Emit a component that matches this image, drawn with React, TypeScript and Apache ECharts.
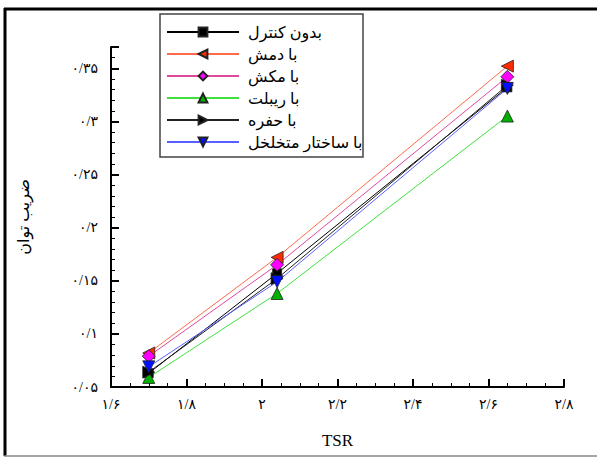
import React, { useEffect, useRef } from "react";
import * as echarts from "echarts";

const tsr = [1.7, 2.04, 2.65];
const seriesNames = ["بدون کنترل", "با دمش", "با مکش", "با ریبلت", "با حفره", "با ساختار متخلخل"];
const noControl = [0.063, 0.157, 0.332];
const blowing = [0.082, 0.172, 0.352];
const suction = [0.079, 0.165, 0.342];
const riblet = [0.059, 0.138, 0.305];
const cavity = [0.064, 0.152, 0.334];
const porous = [0.069, 0.149, 0.331];

const faDigits = "۰۱۲۳۴۵۶۷۸۹";
function toFa(v: number): string {
  const s = String(Math.round(v * 1000) / 1000);
  return s.replace(/\./g, "/").replace(/[0-9]/g, (d) => faDigits[Number(d)]);
}

const FONT = "'Liberation Serif', 'DejaVu Sans', serif";

export default function App() {
  const ref = useRef<HTMLDivElement>(null);
  useEffect(() => {
    if (!ref.current) return;
    const chart = echarts.init(ref.current, undefined, { renderer: "svg" });
    const mk = (
      name: string,
      vals: number[],
      lineColor: string,
      markColor: string,
      symbol: string,
      rotate: number,
      size: number
    ) => ({
      name,
      type: "line",
      data: tsr.map((x, i) => [x, vals[i]]),
      symbol,
      symbolRotate: rotate,
      symbolSize: size,
      lineStyle: { color: lineColor, width: 1 },
      itemStyle: { color: markColor, borderColor: "#222", borderWidth: 0.8 },
      emphasis: { disabled: true },
    });
    chart.setOption({
      animation: false,
      backgroundColor: "#fff",
      grid: { left: 111, right: 33, top: 47, bottom: 71 },
      xAxis: {
        type: "value",
        min: 1.6,
        max: 2.8,
        interval: 0.2,
        name: "TSR",
        nameLocation: "middle",
        nameGap: 45,
        nameTextStyle: { fontFamily: FONT, fontSize: 17, color: "#000" },
        axisLine: { lineStyle: { color: "#000", width: 2 } },
        axisTick: { inside: true, length: 8, lineStyle: { color: "#000", width: 2 } },
        minorTick: { show: true, splitNumber: 4, length: 4, lineStyle: { color: "#000", width: 1 } },
        splitLine: { show: false },
        axisLabel: {
          formatter: (v: number) => toFa(v),
          fontFamily: FONT,
          fontSize: 14,
          color: "#000",
          margin: 10,
        },
      },
      yAxis: {
        type: "value",
        min: 0.05,
        max: 0.37,
        interval: 0.05,
        name: "ضریب توان",
        nameLocation: "middle",
        nameGap: 80,
        nameRotate: 90,
        nameTextStyle: { fontFamily: FONT, fontSize: 16, color: "#000" },
        axisLine: { show: true, lineStyle: { color: "#000", width: 2 } },
        axisTick: { inside: true, length: 8, lineStyle: { color: "#000", width: 2 } },
        minorTick: { show: true, splitNumber: 5, length: 4, lineStyle: { color: "#000", width: 1 } },
        splitLine: { show: false },
        axisLabel: {
          formatter: (v: number) => toFa(v),
          showMaxLabel: false,
          fontFamily: FONT,
          fontSize: 14,
          color: "#000",
          margin: 13,
        },
      },
      legend: {
        show: true,
        orient: "vertical",
        left: 160,
        top: 16,
        padding: [8, 6, 8, 6],
        itemWidth: 72,
        itemHeight: 11,
        itemGap: 6,
        align: "left",
        textStyle: { fontFamily: FONT, fontSize: 16, lineHeight: 16, color: "#000", padding: [0, 0, 0, 4] },
        data: seriesNames,
      },
      graphic: [
        { type: "rect", shape: { x: 160, y: 14, width: 203, height: 143 }, style: { fill: "none", stroke: "#444", lineWidth: 1.5 }, z: 100 },
        { type: "line", shape: { x1: 5, y1: 8, x2: 5, y2: 456 }, style: { stroke: "#000", lineWidth: 3 }, z: 100 },
        { type: "line", shape: { x1: 4, y1: 9, x2: 597, y2: 9 }, style: { stroke: "#000", lineWidth: 3 }, z: 100 },
        { type: "line", shape: { x1: 4, y1: 456, x2: 597, y2: 456 }, style: { stroke: "#888", lineWidth: 1.5 }, z: 100 },
      ],
      series: [
        mk(seriesNames[0], noControl, "#000", "#000", "rect", 0, 9),
        mk(seriesNames[1], blowing, "#ff6a4a", "#ff2a00", "triangle", 90, 12),
        mk(seriesNames[2], suction, "#e0489c", "#ff00ff", "diamond", 0, 13),
        mk(seriesNames[3], riblet, "#3fe03f", "#00b000", "triangle", 0, 12),
        mk(seriesNames[4], cavity, "#222", "#000", "triangle", -90, 12),
        mk(seriesNames[5], porous, "#5a60ff", "#0010ff", "triangle", 180, 12),
      ],
    });
    return () => chart.dispose();
  }, []);
  return (
    <div
      ref={ref}
      style={{ position: "absolute", left: 0, top: 0, width: 597, height: 458 }}
    />
  );
}
